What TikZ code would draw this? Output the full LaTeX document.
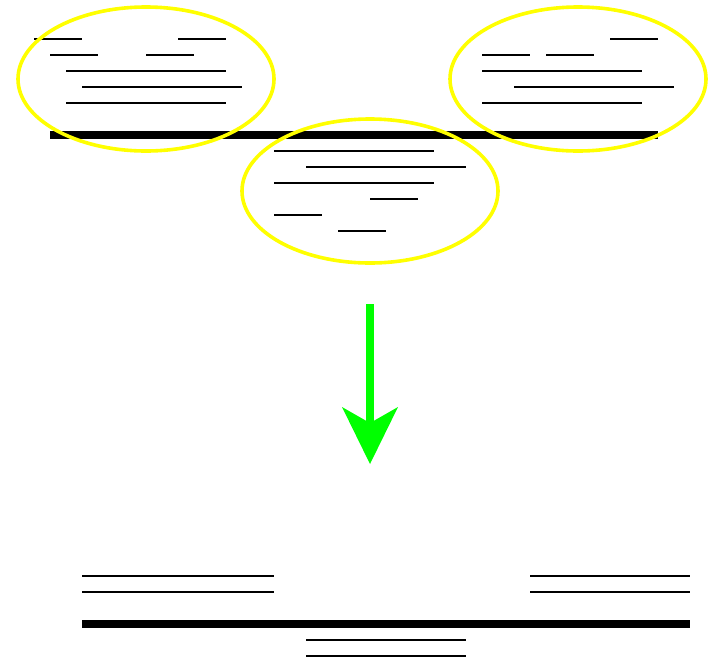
\documentclass[tikz,border=0pt]{standalone}
\usepackage{tikz}
\usetikzlibrary{arrows.meta}
\definecolor{hlyellow}{RGB}{255,255,0}
\definecolor{mergegreen}{RGB}{0,255,0}

\tikzset{
    read/.style={line width=1.6pt},
    contig/.style={line width=7.5pt},
    cluster/.style={draw=hlyellow, line width=3.6pt},
}

\begin{document}
\begin{tikzpicture}[x=16pt, y=-16pt]
    \useasboundingbox (-2.125,-2.4375) rectangle (42.8125,39.4375);

    % Reference line
    \draw[contig] (1,6) -- (39,6);

    % Left cluster
    \draw[read] (0,0) -- (3,0);
    \draw[read] (9,0) -- (12,0);
    \draw[read] (1,1) -- (4,1);
    \draw[read] (7,1) -- (10,1);
    \draw[read] (2,2) -- (12,2);
    \draw[read] (3,3) -- (13,3);
    \draw[read] (2,4) -- (12,4);
    \draw[cluster] (7,2.5) ellipse [x radius=8, y radius=4.5];

    % Right cluster
    \draw[read] (36,0) -- (39,0);
    \draw[read] (28,1) -- (31,1);
    \draw[read] (32,1) -- (35,1);
    \draw[read] (28,2) -- (38,2);
    \draw[read] (30,3) -- (40,3);
    \draw[read] (28,4) -- (38,4);
    \draw[cluster] (34,2.5) ellipse [x radius=8, y radius=4.5];

    % Middle cluster
    \draw[read] (15,7) -- (25,7);
    \draw[read] (17,8) -- (27,8);
    \draw[read] (15,9) -- (25,9);
    \draw[read] (21,10) -- (24,10);
    \draw[read] (15,11) -- (18,11);
    \draw[read] (19,12) -- (22,12);
    \draw[cluster] (21,9.5) ellipse [x radius=8, y radius=4.5];

    % Merge step
    \coordinate (from) at (21,16.5625);
    \coordinate (to) at (21,26.5625);
    \draw[mergegreen, line width=8pt,
        -{Stealth[length=57pt, width=56pt, inset=16pt, line width=0pt]}] (from) -- (to);

    % Merged result
    \begin{scope}[shift={(0,33.5625)}]
        \draw[read] (3,0) -- (15,0);
        \draw[read] (3,1) -- (15,1);
        \draw[read] (31,0) -- (41,0);
        \draw[read] (31,1) -- (41,1);
        \draw[contig] (3,3) -- (41,3);
        \draw[read] (17,4) -- (27,4);
        \draw[read] (17,5) -- (27,5);
    \end{scope}
\end{tikzpicture}
\end{document}
